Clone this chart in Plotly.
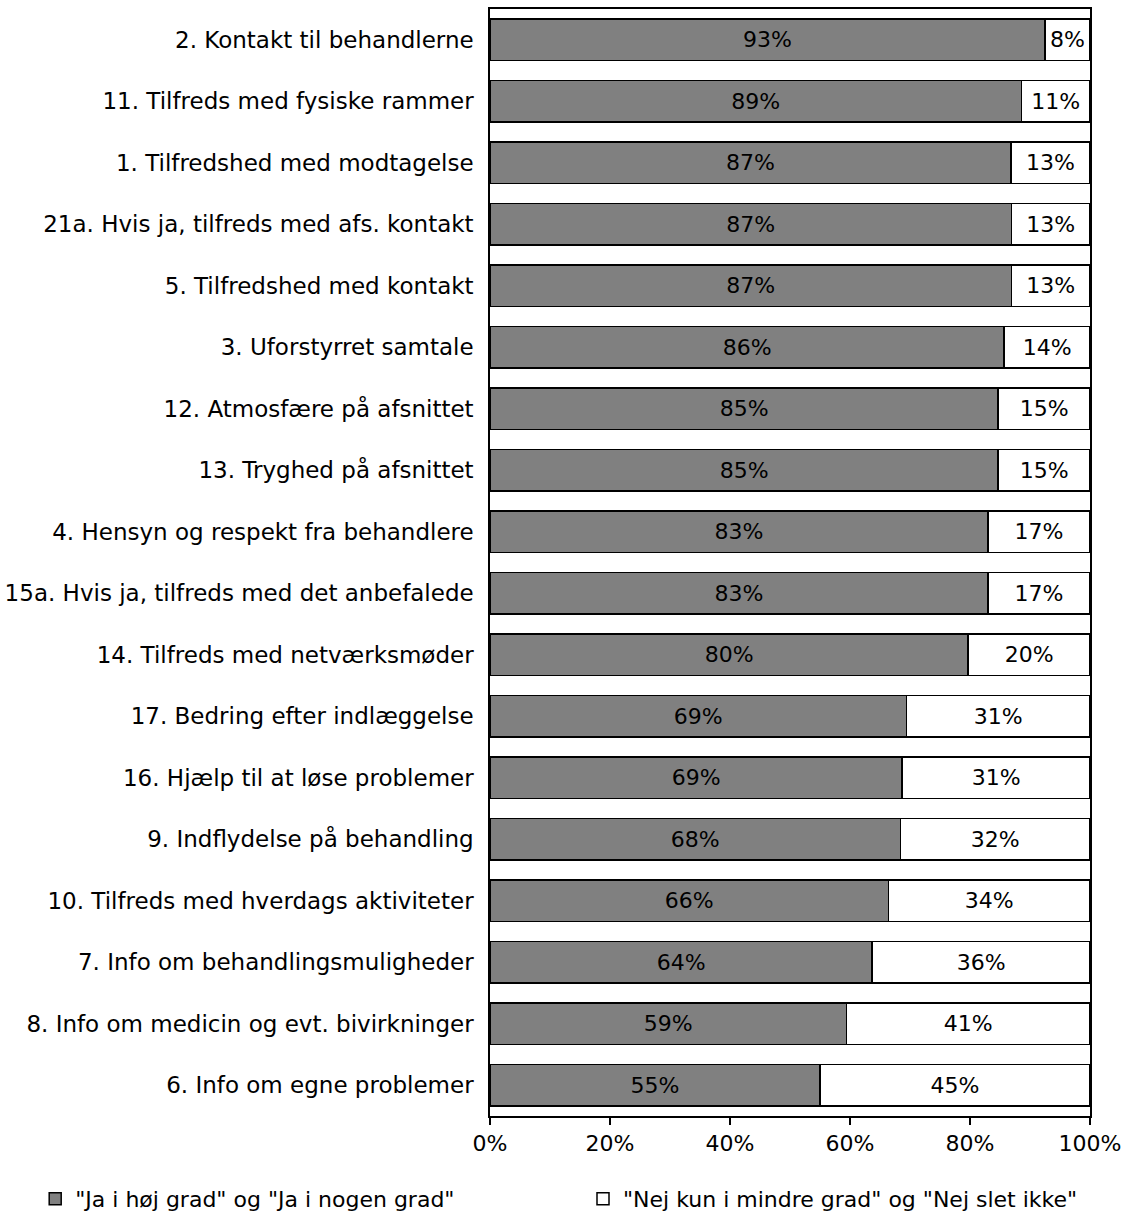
import plotly.graph_objects as go

categories = [
    "2. Kontakt til behandlerne",
    "11. Tilfreds med fysiske rammer",
    "1. Tilfredshed med modtagelse",
    "21a. Hvis ja, tilfreds med afs. kontakt",
    "5. Tilfredshed med kontakt",
    "3. Uforstyrret samtale",
    "12. Atmosfære på afsnittet",
    "13. Tryghed på afsnittet",
    "4. Hensyn og respekt fra behandlere",
    "15a. Hvis ja, tilfreds med det anbefalede",
    "14. Tilfreds med netværksmøder",
    "17. Bedring efter indlæggelse",
    "16. Hjælp til at løse problemer",
    "9. Indflydelse på behandling",
    "10. Tilfreds med hverdags aktiviteter",
    "7. Info om behandlingsmuligheder",
    "8. Info om medicin og evt. bivirkninger",
    "6. Info om egne problemer",
]
yes_values = [92.5, 88.6, 86.8, 86.9, 86.9, 85.7, 84.7, 84.7, 83.0, 83.0,
              79.7, 69.4, 68.7, 68.4, 66.4, 63.7, 59.4, 55.0]
no_values = [round(100 - v, 1) for v in yes_values]
series_names = ['"Ja i høj grad" og "Ja i nogen grad"',
                '"Nej kun i mindre grad" og "Nej slet ikke"']
tick_values = [0, 20, 40, 60, 80, 100]
tick_labels = ["0%", "20%", "40%", "60%", "80%", "100%"]

FONT = "DejaVu Sans"
FS = 23
fig = go.Figure()
for name, vals, color, leg in [(series_names[0], yes_values, "#808080", "legend"),
                               (series_names[1], no_values, "#ffffff", "legend2")]:
    fig.add_trace(go.Bar(
        y=categories, x=vals, orientation="h", name=name, legend=leg,
        marker=dict(color=color, line=dict(color="black", width=1.5)),
        texttemplate="%{x:.0f}%", textposition="inside",
        insidetextanchor="middle", textangle=0,
        insidetextfont=dict(family=FONT, size=FS - 1, color="black"),
        hoverinfo="skip",
    ))

leg_common = dict(orientation="h", xanchor="left", y=-0.075, yanchor="middle",
                  font=dict(family=FONT, size=FS - 1), bgcolor="rgba(0,0,0,0)",
                  itemclick=False, itemdoubleclick=False)
fig.update_layout(
    barmode="stack", bargap=0.32,
    width=1128, height=1214,
    margin=dict(l=490, r=38, t=9, b=98, autoexpand=False),
    plot_bgcolor="white", paper_bgcolor="white",
    font=dict(family=FONT, size=FS, color="black"),
    legend=dict(x=-0.758, **leg_common),
    legend2=dict(x=0.155, **leg_common),
    showlegend=True,
)
fig.update_xaxes(range=[0, 100], tickvals=tick_values, ticktext=tick_labels,
                 showgrid=False, zeroline=False, showline=True, linecolor="black",
                 linewidth=1.5, mirror=True, ticks="outside", ticklen=7,
                 tickcolor="black", tickwidth=1.5,
                 tickfont=dict(family=FONT, size=FS - 1))
fig.update_yaxes(autorange="reversed", showgrid=False, showline=True,
                 linecolor="black", linewidth=1.5, mirror=True, ticks="",
                 ticklabelstandoff=10, tickfont=dict(family=FONT, size=FS))

fig.write_html("out.html", config={"displayModeBar": False},
               post_script="document.body.style.margin='0';")
